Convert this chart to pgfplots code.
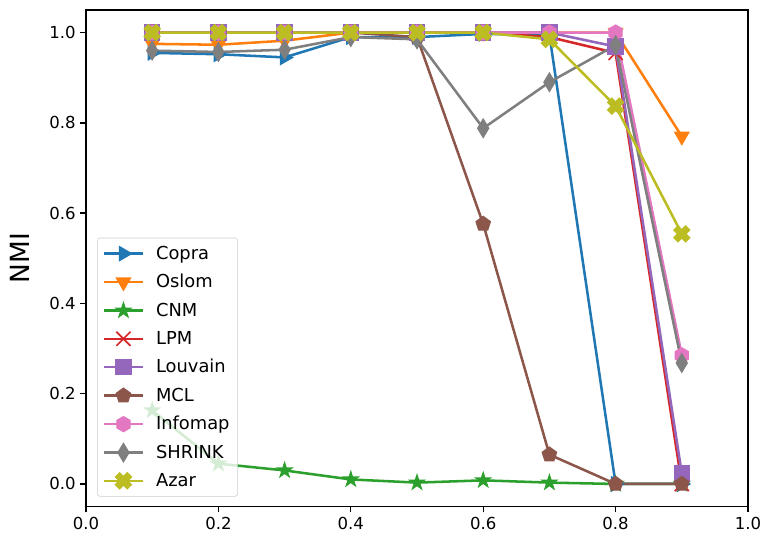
\documentclass[border=0pt]{standalone}
\usepackage{fontspec}
\setmainfont{DejaVu Sans}
\usepackage{pgfplots}
\pgfplotsset{compat=1.18}
\usetikzlibrary{plotmarks}

\definecolor{c0}{HTML}{1F77B4}
\definecolor{c1}{HTML}{FF7F0E}
\definecolor{c2}{HTML}{2CA02C}
\definecolor{c3}{HTML}{D62728}
\definecolor{c4}{HTML}{9467BD}
\definecolor{c5}{HTML}{8C564B}
\definecolor{c6}{HTML}{E377C2}
\definecolor{c7}{HTML}{7F7F7F}
\definecolor{c8}{HTML}{BCBD22}

\pgfdeclareplotmark{fstar}{%
  \pgfpathmoveto{\pgfpointpolar{90}{\pgfplotmarksize}}%
  \pgfpathlineto{\pgfpointpolar{126}{0.382\pgfplotmarksize}}%
  \pgfpathlineto{\pgfpointpolar{162}{\pgfplotmarksize}}%
  \pgfpathlineto{\pgfpointpolar{198}{0.382\pgfplotmarksize}}%
  \pgfpathlineto{\pgfpointpolar{234}{\pgfplotmarksize}}%
  \pgfpathlineto{\pgfpointpolar{270}{0.382\pgfplotmarksize}}%
  \pgfpathlineto{\pgfpointpolar{306}{\pgfplotmarksize}}%
  \pgfpathlineto{\pgfpointpolar{342}{0.382\pgfplotmarksize}}%
  \pgfpathlineto{\pgfpointpolar{18}{\pgfplotmarksize}}%
  \pgfpathlineto{\pgfpointpolar{54}{0.382\pgfplotmarksize}}%
  \pgfpathclose\pgfusepathqfillstroke}

\pgfdeclareplotmark{hexa}{%
  \pgfpathmoveto{\pgfpointpolar{90}{\pgfplotmarksize}}%
  \pgfpathlineto{\pgfpointpolar{150}{\pgfplotmarksize}}%
  \pgfpathlineto{\pgfpointpolar{210}{\pgfplotmarksize}}%
  \pgfpathlineto{\pgfpointpolar{270}{\pgfplotmarksize}}%
  \pgfpathlineto{\pgfpointpolar{330}{\pgfplotmarksize}}%
  \pgfpathlineto{\pgfpointpolar{30}{\pgfplotmarksize}}%
  \pgfpathclose\pgfusepathqfillstroke}

\pgfdeclareplotmark{tdiam}{%
  \pgfpathmoveto{\pgfpoint{0pt}{\pgfplotmarksize}}%
  \pgfpathlineto{\pgfpoint{-0.6\pgfplotmarksize}{0pt}}%
  \pgfpathlineto{\pgfpoint{0pt}{-\pgfplotmarksize}}%
  \pgfpathlineto{\pgfpoint{0.6\pgfplotmarksize}{0pt}}%
  \pgfpathclose\pgfusepathqfillstroke}

\pgfdeclareplotmark{fX}{%
  \pgfpathmoveto{\pgfpointpolar{90}{0.495\pgfplotmarksize}}%
  \pgfpathlineto{\pgfpointpolar{115.7}{1.06\pgfplotmarksize}}%
  \pgfpathlineto{\pgfpointpolar{154.3}{1.06\pgfplotmarksize}}%
  \pgfpathlineto{\pgfpointpolar{180}{0.495\pgfplotmarksize}}%
  \pgfpathlineto{\pgfpointpolar{205.7}{1.06\pgfplotmarksize}}%
  \pgfpathlineto{\pgfpointpolar{244.3}{1.06\pgfplotmarksize}}%
  \pgfpathlineto{\pgfpointpolar{270}{0.495\pgfplotmarksize}}%
  \pgfpathlineto{\pgfpointpolar{295.7}{1.06\pgfplotmarksize}}%
  \pgfpathlineto{\pgfpointpolar{334.3}{1.06\pgfplotmarksize}}%
  \pgfpathlineto{\pgfpointpolar{0}{0.495\pgfplotmarksize}}%
  \pgfpathlineto{\pgfpointpolar{25.7}{1.06\pgfplotmarksize}}%
  \pgfpathlineto{\pgfpointpolar{64.3}{1.06\pgfplotmarksize}}%
  \pgfpathclose\pgfusepathqfillstroke}

\begin{document}
\begin{tikzpicture}
\begin{axis}[
  name=ax,
  scale only axis,
  width=496.5pt, height=372.4pt,
  xmin=0, xmax=1, ymin=-0.05, ymax=1.05,
  xtick={0,0.2,0.4,0.6,0.8,1},
  ytick={0,0.2,0.4,0.6,0.8,1},
  xticklabel style={/pgf/number format/.cd, fixed, fixed zerofill, precision=1},
  yticklabel style={/pgf/number format/.cd, fixed, fixed zerofill, precision=1},
  /pgf/number format/assume math mode=true,
  tick label style={font=\fontsize{12.4}{14}\selectfont},
  tick align=outside, tick pos=left,
  major tick length=4.3pt,
  every tick/.style={black, line width=1pt},
  axis line style={line width=1pt},
  ylabel={NMI},
  every axis y label/.style={at={(axis description cs:-0.0997,0.5)}, rotate=90, anchor=center},
  ylabel style={font=\fontsize{19.8}{22}\selectfont},
  legend style={at={(0.017,0.02)}, anchor=south west,
    font=\fontsize{13.4}{15}\selectfont,
    draw=black!20, fill=white, fill opacity=0.8, text opacity=1, draw opacity=1,
    rounded corners=2pt, row sep=5.8pt, column sep=2pt, inner sep=4pt},
  legend cell align=left,
  legend image code/.code={%
    \draw[sharp corners, fill opacity=1, mark repeat=2, mark phase=2, #1]
      plot coordinates {(0pt,0pt) (14.5pt,0pt) (29pt,0pt)};
    \path (34pt,0pt);},
  every axis plot/.append style={line width=1.9pt},
]
\addplot[color=c0, mark=triangle*, mark size=6pt, mark options={solid, rotate=-90, line width=1pt}]
  coordinates {(0.1,0.955) (0.2,0.952) (0.3,0.945) (0.4,0.99) (0.5,0.99) (0.6,0.997) (0.7,0.995) (0.8,0.0) (0.9,0.0)};
\addlegendentry{Copra}
\addplot[color=c1, mark=triangle*, mark size=6pt, mark options={solid, rotate=180, line width=1pt}]
  coordinates {(0.1,0.975) (0.2,0.973) (0.3,0.982) (0.4,1.0) (0.5,1.0) (0.6,1.0) (0.7,1.0) (0.8,1.0) (0.9,0.77)};
\addlegendentry{Oslom}
\addplot[color=c2, mark=fstar, mark size=5.6pt, mark options={solid, line width=1pt}]
  coordinates {(0.1,0.163) (0.2,0.045) (0.3,0.03) (0.4,0.01) (0.5,0.003) (0.6,0.008) (0.7,0.003) (0.8,0.0) (0.9,0.0)};
\addlegendentry{CNM}
\addplot[color=c3, mark=x, mark size=7.5pt, mark options={solid, line width=1.3pt}]
  coordinates {(0.1,1.0) (0.2,1.0) (0.3,1.0) (0.4,1.0) (0.5,1.0) (0.6,1.0) (0.7,0.99) (0.8,0.955) (0.9,0.0)};
\addlegendentry{LPM}
\addplot[color=c4, mark=square*, mark size=5.6pt, mark options={solid, line width=1pt}]
  coordinates {(0.1,1.0) (0.2,1.0) (0.3,1.0) (0.4,1.0) (0.5,1.0) (0.6,1.0) (0.7,1.0) (0.8,0.969) (0.9,0.023)};
\addlegendentry{Louvain}
\addplot[color=c5, mark=pentagon*, mark size=5.6pt, mark options={solid, line width=1pt}]
  coordinates {(0.1,1.0) (0.2,1.0) (0.3,1.0) (0.4,1.0) (0.5,0.99) (0.6,0.576) (0.7,0.065) (0.8,0.0) (0.9,0.0)};
\addlegendentry{MCL}
\addplot[color=c6, mark=hexa, mark size=5.6pt, mark options={solid, line width=1pt}]
  coordinates {(0.1,1.0) (0.2,1.0) (0.3,1.0) (0.4,1.0) (0.5,1.0) (0.6,1.0) (0.7,1.0) (0.8,1.0) (0.9,0.285)};
\addlegendentry{Infomap}
\addplot[color=c7, mark=tdiam, mark size=6.8pt, mark options={solid, line width=1pt}]
  coordinates {(0.1,0.96) (0.2,0.957) (0.3,0.962) (0.4,0.99) (0.5,0.985) (0.6,0.788) (0.7,0.89) (0.8,0.972) (0.9,0.268)};
\addlegendentry{SHRINK}
\addplot[color=c8, mark=fX, mark size=6.2pt, mark options={solid, line width=1pt}]
  coordinates {(0.1,1.0) (0.2,1.0) (0.3,1.0) (0.4,1.0) (0.5,1.0) (0.6,1.0) (0.7,0.985) (0.8,0.837) (0.9,0.554)};
\addlegendentry{Azar}
\end{axis}
\pgfresetboundingbox
\path[use as bounding box] ([xshift=-64.5pt,yshift=-22.1pt]ax.south west) rectangle ([xshift=11.25pt,yshift=7.5pt]ax.north east);
\end{tikzpicture}
\end{document}
